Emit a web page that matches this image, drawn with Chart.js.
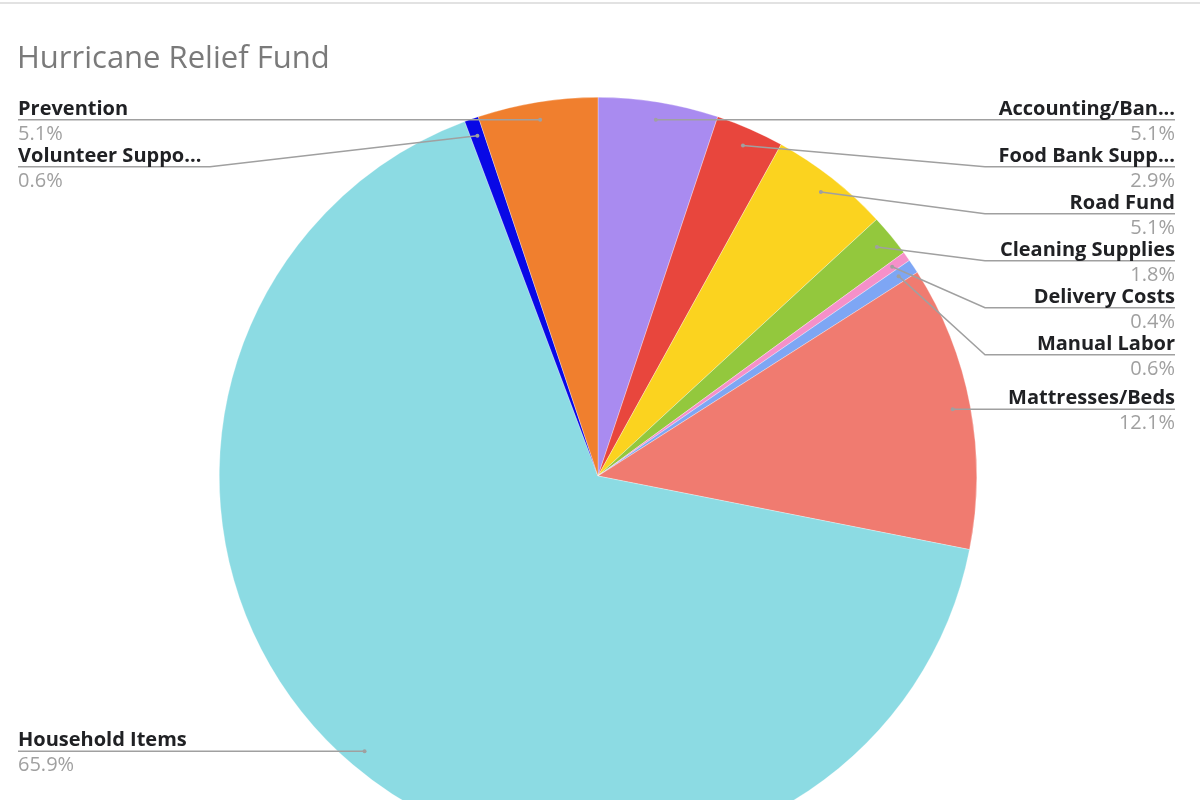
<!DOCTYPE html>
<html>
<head>
<meta charset="utf-8">
<script src="https://cdn.jsdelivr.net/npm/chart.js@4/dist/chart.umd.min.js"></script>
<style>
  html, body { margin: 0; padding: 0; background: #fff; overflow: hidden; }
  #wrap { width: 1200px; height: 900px; }
</style>
</head>
<body>
<div id="wrap"><canvas id="pie-chart-fund" width="1200" height="900"></canvas></div>
<script>
// categories, clockwise from 12 o'clock
const categories = ["Accounting/Ban...", "Food Bank Supp...", "Road Fund", "Cleaning Supplies",
  "Delivery Costs", "Manual Labor", "Mattresses/Beds", "Household Items",
  "Volunteer Suppo...", "Prevention"];
const shares = [5.1, 2.9, 5.1, 1.8, 0.4, 0.6, 12.1, 65.9, 0.6, 5.1];
const shareLabels = ["5.1%", "2.9%", "5.1%", "1.8%", "0.4%", "0.6%", "12.1%", "65.9%", "0.6%", "5.1%"];
const sliceColors = ["#a98bf0", "#e8463d", "#fbd31f", "#93c83d", "#f590c9", "#7ea6f4",
  "#f07b70", "#8cdbe3", "#0808e6", "#f07f2e"];

// title + leader-line labels, google sheets style
const calloutPlugin = {
  id: 'callouts',
  afterDraw(chart) {
    const ctx = chart.ctx;
    ctx.save();
    // thin top border
    ctx.fillStyle = "#e2e2e2";
    ctx.fillRect(0, 2, chart.width, 2);
    // title
    ctx.fillStyle = "#7a7a7a";
    ctx.font = "31px 'Open Sans'";
    ctx.textAlign = "left";
    ctx.textBaseline = "middle";
    ctx.fillText("Hurricane Relief Fund", 17, 59);

    const meta = chart.getDatasetMeta(0);
    const items = [];
    meta.data.forEach((arc, i) => {
      const p = arc.getProps(['x', 'y', 'startAngle', 'endAngle', 'outerRadius'], true);
      const mid = (p.startAngle + p.endAngle) / 2;
      const r = p.outerRadius * 0.953;
      const px = p.x + Math.cos(mid) * r;
      const py = p.y + Math.sin(mid) * r;
      items.push({ i, px, py, right: px > p.x });
    });
    const gap = 47;
    [true, false].forEach(side => {
      const list = items.filter(o => o.right === side).sort((a, b) => a.py - b.py);
      let prev = -Infinity;
      list.forEach(o => {
        o.ly = Math.max(o.py, prev + gap);
        prev = o.ly;
      });
    });

    items.forEach(o => {
      const elbowX = o.right ? 985 : 210;
      const endX = o.right ? 1175 : 18;
      ctx.strokeStyle = "#a0a0a0";
      ctx.lineWidth = 1.5;
      ctx.beginPath();
      ctx.moveTo(o.px, o.py);
      if (Math.abs(o.ly - o.py) > 1) ctx.lineTo(elbowX, o.ly);
      ctx.lineTo(endX, o.ly);
      ctx.stroke();
      ctx.fillStyle = "#a0a0a0";
      ctx.beginPath();
      ctx.arc(o.px, o.py, 2, 0, Math.PI * 2);
      ctx.fill();

      ctx.textAlign = o.right ? "right" : "left";
      ctx.textBaseline = "alphabetic";
      ctx.fillStyle = "#202124";
      ctx.font = "bold 20px 'Open Sans'";
      ctx.fillText(categories[o.i], endX, o.ly - 5);
      ctx.fillStyle = "#a0a0a0";
      ctx.font = "20px 'Open Sans'";
      ctx.fillText(shareLabels[o.i], endX, o.ly + 20);
    });
    ctx.restore();
  }
};

new Chart(document.getElementById("pie-chart-fund"), {
    type: 'pie',
    data: {
      labels: categories,
      datasets: [{
        label: "Share",
        backgroundColor: sliceColors,
        borderColor: "rgba(255,255,255,0.6)",
        borderWidth: 0.5,
        data: shares
      }]
    },
    options: {
      responsive: false,
      animation: false,
      layout: { padding: { top: 97, bottom: 45, left: 0, right: 4 } },
      plugins: {
        legend: { display: false },
        tooltip: { enabled: false }
      }
    },
    plugins: [calloutPlugin]
});
</script>
</body>
</html>
